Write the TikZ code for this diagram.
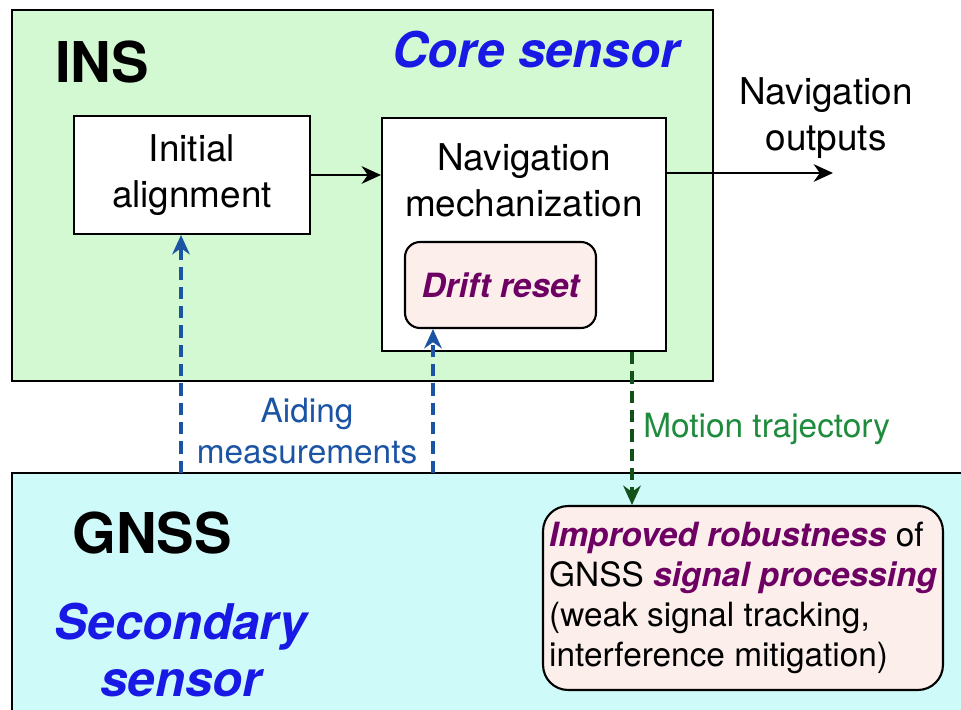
\documentclass[tikz,border=0pt]{standalone}
\usepackage{fontspec}
\setmainfont{TeX Gyre Heros}
\usepackage{tikz}
\usetikzlibrary{arrows.meta, positioning, calc}

\definecolor{insgreen}{RGB}{211,249,211}
\definecolor{gnsscyan}{RGB}{207,250,250}
\definecolor{driftpink}{RGB}{252,238,234}
\definecolor{coreblue}{RGB}{25,25,230}
\definecolor{aidblue}{RGB}{28,84,164}
\definecolor{motgreen}{RGB}{30,140,60}
\definecolor{motdark}{RGB}{20,80,25}
\definecolor{hilite}{RGB}{110,0,100}

\newcommand{\keyterm}[1]{{\color{hilite}\bfseries\itshape #1}}

\tikzset{
  panel/.style={line width=1.2pt},
  block/.style={draw, line width=1.2pt, fill=white, inner sep=0pt},
  note/.style={inner sep=0pt, align=center},
  flow/.style={line width=1.2pt, -{Stealth[length=11pt, width=10pt, inset=3.5pt]}},
  aidline/.style={aidblue, line width=1.8pt, dash pattern=on 7pt off 4pt,
    -{Stealth[length=11pt, width=10pt, inset=3.5pt]}},
  motline/.style={motdark, line width=1.8pt, dash pattern=on 7pt off 4pt,
    -{Stealth[length=11pt, width=10pt, inset=3.5pt]}},
}

\begin{document}
\begin{tikzpicture}[x=0.02cm, y=-0.02cm]
\useasboundingbox (0,0) rectangle (961,710);
\clip (0,0) rectangle (961,710);

\draw[panel, fill=insgreen] (12,10) rectangle (713,381);
\draw[panel, fill=gnsscyan] (12,473) rectangle (990,740);

\node[note, anchor=base west, font=\fontsize{32}{38}\selectfont\bfseries] (institle) at (55,82) {INS};
\node[note, anchor=base west, text=coreblue, font=\fontsize{28}{33}\selectfont\bfseries\itshape] (coretitle) at (392,67) {Core sensor};
\node[note, anchor=base west, font=\fontsize{32}{38}\selectfont\bfseries] (gnsstitle) at (72,553) {GNSS};
\node[note, text=coreblue, font=\fontsize{28}{33}\selectfont\bfseries\itshape] (sectitle) at (181,650) {Secondary\\sensor};

\node[block, minimum width=4.72cm, minimum height=2.36cm, align=center, font=\fontsize{21}{26}\selectfont] (init) at (192,175) {Initial\\alignment};
\node[block, minimum width=5.68cm, minimum height=4.66cm] (nav) at (524,234.5) {};
\node[note, font=\fontsize{21}{26}\selectfont] (navtxt) at (524,180) {Navigation\\mechanization};
\node[block, fill=driftpink, rounded corners=0.3cm, minimum width=3.82cm, minimum height=1.72cm, font=\fontsize{19}{23}\selectfont] (drift) at (500.5,285) {\keyterm{Drift reset}};

\node[block, fill=driftpink, rounded corners=0.5cm, minimum width=8cm, minimum height=3.68cm, align=left, font=\fontsize{19}{22.8}\selectfont] (impr) at (743,598)
  {\keyterm{Improved robustness} of\\GNSS \keyterm{signal processing}\\(weak signal tracking,\\interference mitigation)};

\draw[flow] (init.east) -- (init.east -| nav.west);
\coordinate (outend) at (833,173);
\draw[flow] (nav.east |- outend) -- (outend);
\node[note, font=\fontsize{21}{26}\selectfont] (outtxt) at (826,118) {Navigation\\outputs};

\coordinate (aidA) at (181,473);
\coordinate (aidB) at (433,473);
\draw[aidline] (aidA) -- (aidA |- init.south);
\draw[aidline] (aidB) -- (aidB |- drift.south);
\node[note, text=aidblue, font=\fontsize{19}{23}\selectfont] (aidtxt) at (307,431) {Aiding\\measurements};

\coordinate (motA) at (632,351);
\draw[motline] (nav.south -| motA) -- (motA |- impr.north);
\node[note, anchor=base west, text=motgreen, font=\fontsize{19}{23}\selectfont] (mottxt) at (643,437) {Motion trajectory};
\end{tikzpicture}
\end{document}
